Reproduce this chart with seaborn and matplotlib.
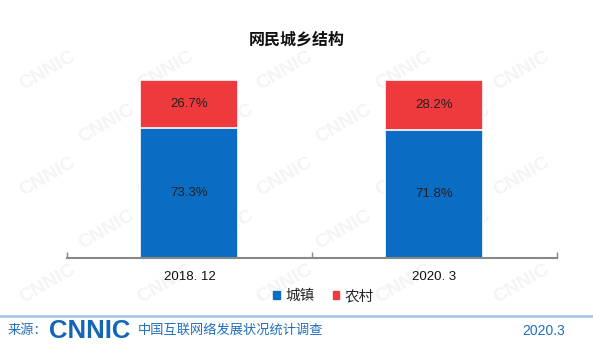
import pandas as pd
import numpy as np
import seaborn as sns
import matplotlib.pyplot as plt
from matplotlib.patches import Patch
plt.switch_backend('agg')

periods = ['2018. 12', '2020. 3']
urban = [73.3, 71.8]
rural = [26.7, 28.2]
series_names = ['城镇', '农村']

BLUE = '#0A6CC2'
RED = '#EE3A3D'
FOOT = '#1F6FBF'

sns.set_theme(style='white')
plt.rcParams['font.family'] = ['Liberation Sans', 'Noto Sans CJK SC']

df = pd.DataFrame({'period': periods, 'urban': urban, 'rural': rural})
df['total'] = df['urban'] + df['rural']

fig = plt.figure(figsize=(5.93, 3.54), dpi=100)

# faint watermark pattern, kept inside the canvas and behind everything
for r, yy in enumerate(np.arange(0.2, 0.95, 0.15)):
    off = 0.1 if r % 2 else 0
    for xx in np.arange(0.08 + off, 0.92, 0.2):
        fig.text(xx, yy, 'CNNIC', rotation=30, fontsize=14, fontweight='bold',
                 color='#f4f4f4', ha='center', va='center', zorder=-5)

ax = fig.add_axes([0.113, 0.271, 0.826, 0.503])
ax.set_facecolor('none')
sns.barplot(data=df, x='period', y='total', color=RED, width=0.4, ax=ax,
            edgecolor='white', linewidth=1.2, saturation=1)
sns.barplot(data=df, x='period', y='urban', color=BLUE, width=0.4, ax=ax,
            edgecolor='white', linewidth=1.2, saturation=1)

for i, row in df.iterrows():
    ax.text(i, row['urban'] / 2, '%.1f%%' % row['urban'], ha='center', va='center',
            fontsize=9.5, color='#222222')
    ax.text(i, row['urban'] + row['rural'] / 2, '%.1f%%' % row['rural'], ha='center',
            va='center', fontsize=9.5, color='#222222')

ax.set_ylim(0, 100)
ax.set_xlim(-0.5, 1.5)
ax.set_xlabel('')
ax.set_ylabel('')
ax.set_yticks([])
for s in ['top', 'right', 'left']:
    ax.spines[s].set_visible(False)
ax.spines['bottom'].set_color('#888888')
ax.spines['bottom'].set_linewidth(1.5)
ax.set_xticks([-0.5, 0.5, 1.5], minor=True)
ax.tick_params(axis='x', which='major', length=0, labelsize=9.5, pad=9, colors='#111111')
ax.tick_params(axis='x', which='minor', direction='in', length=4, width=1, color='#888888',
               bottom=True)

fig.text(0.5, 0.887, '网民城乡结构', ha='center', va='center', fontsize=11.5,
         fontweight='bold', color='#111111')

handles = [Patch(color=BLUE, label=series_names[0]), Patch(color=RED, label=series_names[1])]
fig.legend(handles=handles, loc='center', bbox_to_anchor=(0.546, 0.163), ncol=2,
           frameon=False, fontsize=10.5, handlelength=0.45, handleheight=0.45,
           handletextpad=0.4, columnspacing=1.2)

fig.add_artist(plt.Line2D([0, 1], [0.107, 0.107], color='#A9C8E8', linewidth=2))
fig.text(0.012, 0.066, '来源：', ha='left', va='center', fontsize=9.5, color=FOOT)
fig.text(0.082, 0.066, 'CNNIC', ha='left', va='center', fontsize=18.5, fontweight='bold',
         color='#1565B5')
fig.text(0.233, 0.066, '中国互联网络发展状况统计调查', ha='left', va='center',
         fontsize=9.5, color=FOOT)
fig.text(0.953, 0.066, '2020.3', ha='right', va='center', fontsize=10, color=FOOT)

fig.savefig('out.png', dpi=100)
